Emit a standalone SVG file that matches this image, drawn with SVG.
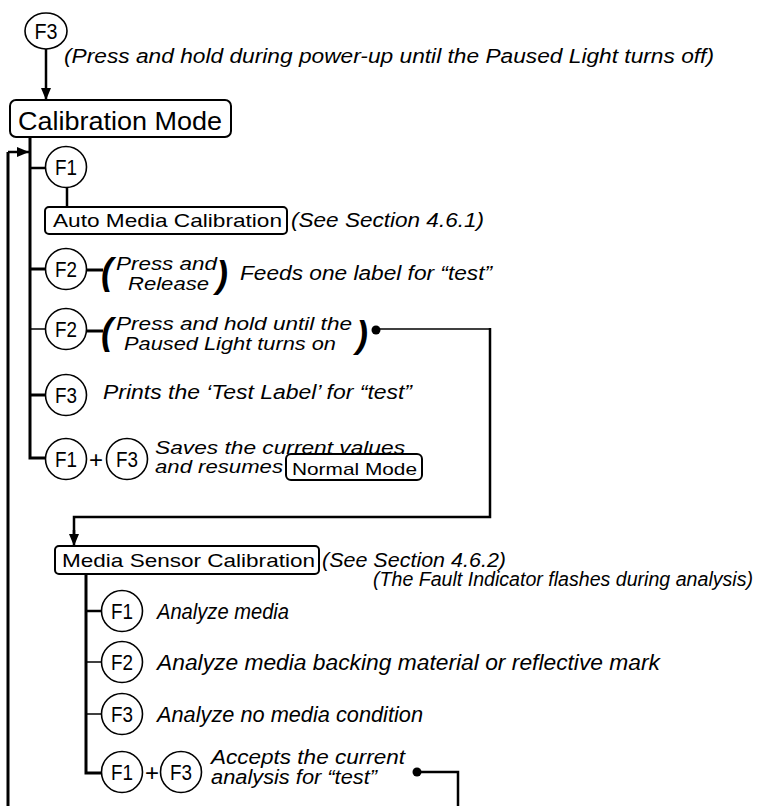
<svg xmlns="http://www.w3.org/2000/svg" width="763" height="806" viewBox="0 0 763 806">
<defs>
<marker id="ah" viewBox="0 0 12 10" refX="12" refY="5" markerWidth="12" markerHeight="10" markerUnits="userSpaceOnUse" orient="auto">
<path d="M0,0 L12,5 L0,10 Z" fill="#000"/>
</marker>
</defs>
<style>
text{font-family:"Liberation Sans",Arial,sans-serif;fill:#000}
.it{font-style:italic;font-size:20px}
.it2{font-style:italic;font-size:19px}
.lo{font-style:italic;font-size:22px}
.lo2{font-style:italic;font-size:20px}
.key{font-size:22px;text-anchor:middle}
.par{font-style:italic;font-size:36px;font-weight:bold}
.plus{font-size:24px;text-anchor:middle}
.box{fill:none;stroke:#000;stroke-width:2}
.circ{fill:#fff;stroke:#000;stroke-width:1.6}
.thick{fill:none;stroke:#000;stroke-width:3}
.mid{fill:none;stroke:#000;stroke-width:2.5}
.thin{fill:none;stroke:#000;stroke-width:1.5}
</style>
<rect width="763" height="806" fill="#fff"/>

<g id="connectors">
<line class="mid" x1="46" y1="49" x2="46" y2="100" marker-end="url(#ah)"/>
<polyline class="thick" points="30,137 30,458 45,458"/>
<line class="thick" x1="8" y1="152" x2="8" y2="806"/>
<line class="mid" x1="8" y1="152" x2="29" y2="152" marker-end="url(#ah)"/>
<line class="mid" x1="30" y1="168" x2="45" y2="168"/>
<line class="mid" x1="67" y1="187" x2="67" y2="207"/>
<line class="thick" x1="30" y1="269" x2="45" y2="269"/>
<line class="thick" x1="87" y1="270" x2="103" y2="270"/>
<line class="thin" x1="30" y1="329" x2="45" y2="329"/>
<line class="thick" x1="87" y1="331" x2="103" y2="331"/>
<line class="thick" x1="30" y1="395" x2="45" y2="395"/>
<circle cx="376" cy="330" r="4.5" fill="#000"/>
<line class="thin" x1="376" y1="329" x2="490" y2="329"/>
<polyline class="mid" points="490,328 490,517 74,517 74,534"/>
<line class="mid" x1="74" y1="530" x2="74" y2="546" marker-end="url(#ah)"/>
<polyline class="thick" points="86,574 86,773 101,773"/>
<line class="mid" x1="86" y1="611" x2="101" y2="611"/>
<line class="thin" x1="86" y1="662" x2="101" y2="662"/>
<line class="thin" x1="86" y1="714" x2="101" y2="714"/>
<circle cx="417" cy="772" r="4.5" fill="#000"/>
<polyline class="mid" points="417,772 458,772 458,806"/>
</g>

<g id="start-f3">
<ellipse class="circ" cx="46" cy="31" rx="21" ry="18"/>
<text class="key" x="46" y="39" textLength="23" lengthAdjust="spacingAndGlyphs">F3</text>
</g>
<g id="start-note">
<text class="it" x="64" y="63" textLength="650" lengthAdjust="spacingAndGlyphs">(Press and hold during power-up until the Paused Light turns off)</text>
</g>

<g id="calibration-mode">
<rect class="box" x="10" y="100" width="221" height="37" rx="6"/>
<text x="18" y="130" font-size="25" textLength="204" lengthAdjust="spacingAndGlyphs">Calibration Mode</text>
</g>

<g id="f1-auto">
<circle class="circ" cx="66" cy="167" r="20.5"/>
<text class="key" x="66" y="175" textLength="22" lengthAdjust="spacingAndGlyphs">F1</text>
</g>
<g id="auto-media">
<rect class="box" x="45" y="207" width="242" height="27" rx="4"/>
<text x="53" y="227" font-size="19" textLength="229" lengthAdjust="spacingAndGlyphs">Auto Media Calibration</text>
<text class="it" x="291" y="227" textLength="193" lengthAdjust="spacingAndGlyphs">(See Section 4.6.1)</text>
</g>

<g id="f2-feed">
<circle class="circ" cx="66" cy="269" r="20.5"/>
<text class="key" x="66" y="277" textLength="22" lengthAdjust="spacingAndGlyphs">F2</text>
<text class="par" x="101" y="284">(</text>
<text class="it2" x="116" y="270" textLength="101" lengthAdjust="spacingAndGlyphs">Press and</text>
<text class="it2" x="128" y="290" textLength="81" lengthAdjust="spacingAndGlyphs">Release</text>
<text class="par" x="216" y="287">)</text>
<text class="it" x="240" y="280" textLength="252" lengthAdjust="spacingAndGlyphs">Feeds one label for “test”</text>
</g>

<g id="f2-hold">
<circle class="circ" cx="66" cy="329" r="20.5"/>
<text class="key" x="66" y="337" textLength="22" lengthAdjust="spacingAndGlyphs">F2</text>
<text class="par" x="101" y="344">(</text>
<text class="it2" x="116" y="330" textLength="236" lengthAdjust="spacingAndGlyphs">Press and hold until the</text>
<text class="it2" x="124" y="350" textLength="212" lengthAdjust="spacingAndGlyphs">Paused Light turns on</text>
<text class="par" x="356" y="347">)</text>
</g>

<g id="f3-print">
<circle class="circ" cx="66" cy="395" r="20.5"/>
<text class="key" x="66" y="403" textLength="22" lengthAdjust="spacingAndGlyphs">F3</text>
<text class="it" x="103" y="399" textLength="309" lengthAdjust="spacingAndGlyphs">Prints the ‘Test Label’ for “test”</text>
</g>

<g id="f1f3-save">
<circle class="circ" cx="66" cy="459" r="20.5"/>
<text class="key" x="66" y="467" textLength="22" lengthAdjust="spacingAndGlyphs">F1</text>
<text class="plus" x="96" y="468">+</text>
<circle class="circ" cx="127" cy="459" r="20.5"/>
<text class="key" x="127" y="467" textLength="22" lengthAdjust="spacingAndGlyphs">F3</text>
<text class="it2" x="155" y="454" textLength="250" lengthAdjust="spacingAndGlyphs">Saves the current values</text>
<text class="it2" x="155" y="473" textLength="128" lengthAdjust="spacingAndGlyphs">and resumes</text>
</g>
<g id="normal-mode">
<rect class="box" x="286" y="454" width="136" height="26" rx="5"/>
<text x="292" y="475" font-size="17" textLength="125" lengthAdjust="spacingAndGlyphs">Normal Mode</text>
</g>

<g id="media-sensor">
<rect class="box" x="55" y="546" width="264" height="28" rx="4"/>
<text x="62" y="567" font-size="19" textLength="253" lengthAdjust="spacingAndGlyphs">Media Sensor Calibration</text>
<text class="it" x="322" y="567" textLength="184" lengthAdjust="spacingAndGlyphs">(See Section 4.6.2)</text>
<text class="lo2" x="373" y="586" textLength="380" lengthAdjust="spacingAndGlyphs">(The Fault Indicator flashes during analysis)</text>
</g>

<g id="f1-analyze">
<circle class="circ" cx="122" cy="611" r="20.5"/>
<text class="key" x="122" y="619" textLength="22" lengthAdjust="spacingAndGlyphs">F1</text>
<text class="lo" x="157" y="619" textLength="132" lengthAdjust="spacingAndGlyphs">Analyze media</text>
</g>
<g id="f2-analyze">
<circle class="circ" cx="122" cy="662" r="20.5"/>
<text class="key" x="122" y="670" textLength="22" lengthAdjust="spacingAndGlyphs">F2</text>
<text class="lo" x="157" y="670" textLength="503" lengthAdjust="spacingAndGlyphs">Analyze media backing material or reflective mark</text>
</g>
<g id="f3-analyze">
<circle class="circ" cx="122" cy="714" r="20.5"/>
<text class="key" x="122" y="722" textLength="22" lengthAdjust="spacingAndGlyphs">F3</text>
<text class="lo" x="157" y="722" textLength="266" lengthAdjust="spacingAndGlyphs">Analyze no media condition</text>
</g>
<g id="f1f3-accept">
<circle class="circ" cx="122" cy="772" r="20.5"/>
<text class="key" x="122" y="780" textLength="22" lengthAdjust="spacingAndGlyphs">F1</text>
<text class="plus" x="152" y="781">+</text>
<circle class="circ" cx="181" cy="772" r="20.5"/>
<text class="key" x="181" y="780" textLength="22" lengthAdjust="spacingAndGlyphs">F3</text>
<text class="lo2" x="211" y="764" textLength="194" lengthAdjust="spacingAndGlyphs">Accepts the current</text>
<text class="lo2" x="211" y="784" textLength="166" lengthAdjust="spacingAndGlyphs">analysis for “test”</text>
</g>
</svg>
